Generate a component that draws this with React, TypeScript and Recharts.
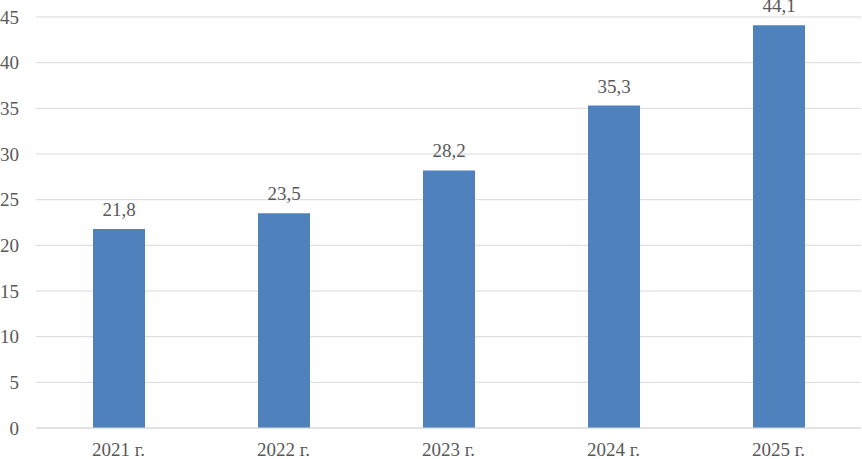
import { BarChart, Bar, XAxis, YAxis, CartesianGrid, LabelList } from "recharts";

const years = ["2021 г.", "2022 г.", "2023 г.", "2024 г.", "2025 г."];
const values = [21.8, 23.5, 28.2, 35.3, 44.1];
const yTicks = [0, 5, 10, 15, 20, 25, 30, 35, 40, 45];

const data = years.map((year, i) => ({ year, value: values[i] }));

const font = "'Liberation Serif', serif";
const textColor = "#595959";

export default function App() {
  return (
    <div style={{ position: "absolute", left: 0, top: 0, background: "#fff" }}>
      <BarChart
        width={862}
        height={459}
        data={data}
        margin={{ top: 17, right: 1, left: 0, bottom: 0 }}
        barCategoryGap={0}
      >
        <CartesianGrid vertical={false} stroke="#D9D9D9" strokeWidth={1} />
        <XAxis
          dataKey="year"
          axisLine={{ stroke: "#D9D9D9" }}
          tickLine={false}
          tickSize={0}
          tickMargin={15}
          height={31}
          tick={{ fill: textColor, fontSize: 19, fontFamily: font }}
        />
        <YAxis
          domain={[0, 45]}
          ticks={yTicks}
          axisLine={false}
          tickLine={false}
          tickSize={0}
          tickMargin={17}
          width={36}
          tick={{ fill: textColor, fontSize: 19, fontFamily: font }}
        />
        <Bar dataKey="value" fill="#4F81BD" barSize={52} isAnimationActive={false}>
          <LabelList
            dataKey="value"
            position="top"
            offset={13}
            formatter={(v: number) => String(v).replace(".", ",")}
            style={{ fill: textColor, fontSize: 19, fontFamily: font }}
          />
        </Bar>
      </BarChart>
    </div>
  );
}
